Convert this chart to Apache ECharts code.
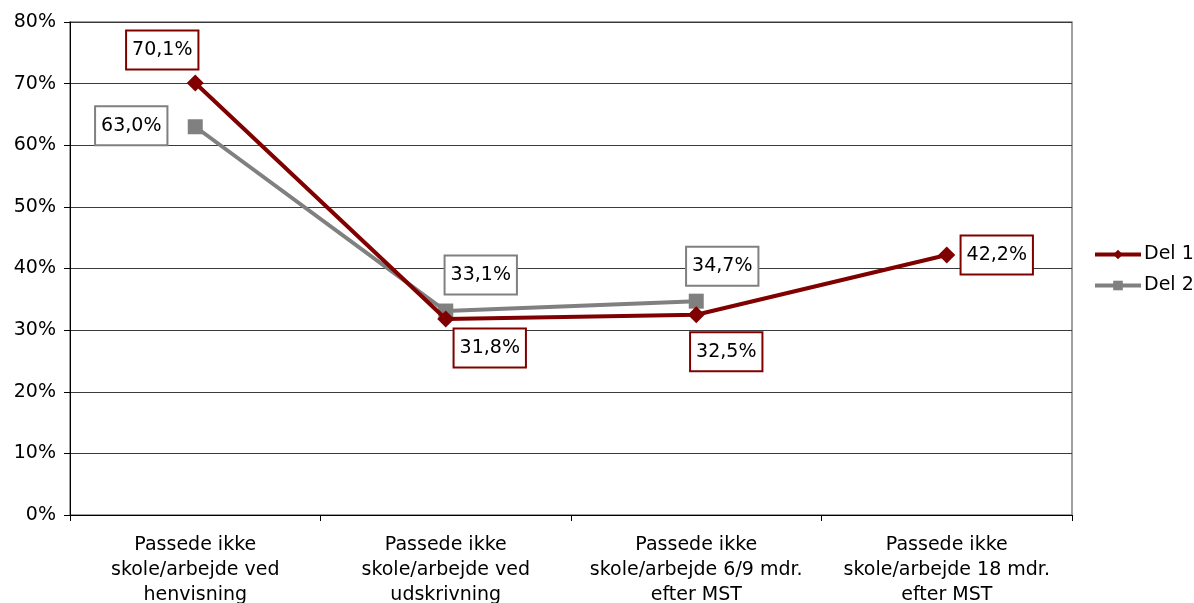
<!DOCTYPE html>
<html>
<head>
<meta charset="utf-8">
<script src="https://cdn.jsdelivr.net/npm/echarts@6/dist/echarts.min.js"></script>
<style>
  html, body { margin: 0; padding: 0; background: #fff; }
  #chart { width: 1194px; height: 603px; }
</style>
</head>
<body>
<div id="chart"></div>
<script>
// Share not attending school/work at each measurement point (%)
const categories = [
  'Passede ikke\nskole/arbejde ved\nhenvisning',
  'Passede ikke\nskole/arbejde ved\nudskrivning',
  'Passede ikke\nskole/arbejde 6/9 mdr.\nefter MST',
  'Passede ikke\nskole/arbejde 18 mdr.\nefter MST'
];
const del1 = [70.1, 31.8, 32.5, 42.2];
const del2 = [63.0, 33.1, 34.7];
const seriesNames = ['Del 1', 'Del 2'];

// label placement around each point (centre offset in px)
const del1Offsets = [[-33, -33], [44, 29], [30, 37], [50, 0]];
const del2Offsets = [[-64, -1], [35, -36], [26, -35]];

const FONT = 'DejaVu Sans';
const FS = 19;
const RED = '#800000';
const GREY = '#808080';

function fmt(v) {
  return v.toFixed(1).replace('.', ',') + '%';
}

function labelled(values, offsets, color) {
  return values.map((v, i) => ({
    value: v,
    label: {
      show: true,
      position: 'inside',
      offset: offsets[i],
      formatter: () => fmt(v),
      fontFamily: FONT,
      fontSize: FS,
      color: '#000',
      backgroundColor: '#fff',
      borderColor: color,
      borderWidth: 2,
      padding: [10, 5, 8, 5]
    }
  }));
}

const chart = echarts.init(document.getElementById('chart'));
chart.setOption({
  animation: false,
  textStyle: { fontFamily: FONT },
  grid: {
    left: 70, right: 122, top: 22, bottom: 88,
    outerBoundsMode: 'none',
    containLabel: false,
    show: true, borderColor: GREY, borderWidth: 1.5, backgroundColor: 'transparent'
  },
  legend: {
    orient: 'vertical',
    left: 1088, top: 240,
    itemWidth: 46, itemHeight: 12, itemGap: 12,
    lineStyle: { width: 4 },
    textStyle: { fontFamily: FONT, fontSize: FS, color: '#000', padding: [0, 0, 0, -2] },
    data: seriesNames
  },
  xAxis: {
    type: 'category',
    data: categories,
    boundaryGap: true,
    axisLine: { lineStyle: { color: '#000', width: 1 } },
    axisTick: { show: true, alignWithLabel: false, length: 6, lineStyle: { color: '#000' } },
    axisLabel: {
      interval: 0, margin: 18, fontFamily: FONT, fontSize: FS, color: '#000',
      lineHeight: 25, align: 'center'
    }
  },
  yAxis: {
    type: 'value',
    min: 0, max: 80, interval: 10,
    axisLine: { show: true, lineStyle: { color: '#000', width: 1 } },
    axisTick: { show: true, length: 6, lineStyle: { color: '#000' } },
    axisLabel: { formatter: '{value}%', fontFamily: FONT, fontSize: FS, color: '#000', margin: 14 },
    splitLine: { lineStyle: { color: '#3a3a3a', width: 1 } }
  },
  series: [
    {
      name: seriesNames[0],
      type: 'line',
      data: labelled(del1, del1Offsets, RED),
      symbol: 'diamond', symbolSize: 17,
      lineStyle: { color: RED, width: 4 },
      itemStyle: { color: RED },
      z: 3
    },
    {
      name: seriesNames[1],
      type: 'line',
      data: labelled(del2, del2Offsets, GREY),
      symbol: 'rect', symbolSize: 15,
      lineStyle: { color: GREY, width: 4 },
      itemStyle: { color: GREY },
      z: 2
    }
  ]
});
</script>
</body>
</html>
